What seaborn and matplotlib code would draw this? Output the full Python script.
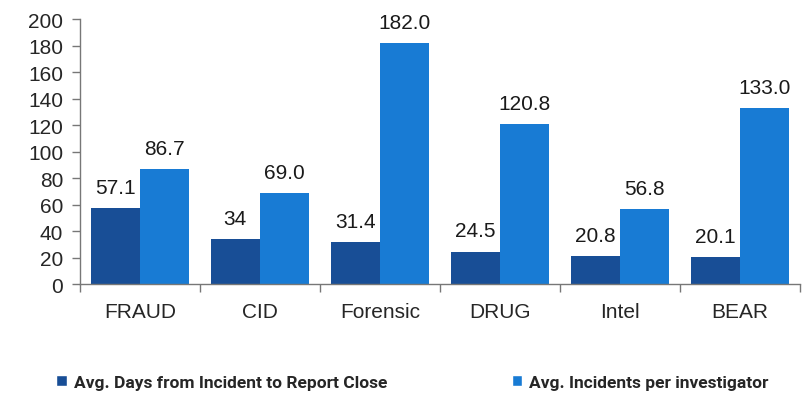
import matplotlib
matplotlib.use("Agg")
import matplotlib.pyplot as plt
import seaborn as sns
import pandas as pd
from matplotlib.patches import Patch

units = ["FRAUD", "CID", "Forensic", "DRUG", "Intel", "BEAR"]
avg_days = [57.1, 34, 31.4, 24.5, 20.8, 20.1]
avg_incidents = [86.7, 69.0, 182.0, 120.8, 56.8, 133.0]
series_names = ["Avg. Days from Incident to Report Close", "Avg. Incidents per investigator"]
y_ticks = [0, 20, 40, 60, 80, 100, 120, 140, 160, 180, 200]

dark_blue = "#184E96"
light_blue = "#187BD4"

df = pd.DataFrame({
    "unit": units * 2,
    "series": [series_names[0]] * len(units) + [series_names[1]] * len(units),
    "value": avg_days + avg_incidents,
})

sns.set_style("white")
plt.rcParams["font.family"] = ["Liberation Sans", "DejaVu Sans"]

fig = plt.figure(figsize=(8.07, 4.02), dpi=100)
ax = fig.add_axes([0.099, 0.291, 0.892, 0.659])

sns.barplot(data=df, x="unit", y="value", hue="series", order=units,
            hue_order=series_names, palette=[dark_blue, light_blue],
            width=0.82, gap=0, saturation=1, ax=ax, legend=False,
            edgecolor="none", linewidth=0)

ax.bar_label(ax.containers[0], labels=[f"{v:g}" for v in avg_days],
             padding=8, fontsize=15, color="#1a1a1a")
ax.bar_label(ax.containers[1], labels=[f"{v:.1f}" for v in avg_incidents],
             padding=8, fontsize=15, color="#1a1a1a")

ax.set_ylim(0, 200)
ax.set_yticks(y_ticks)
ax.set_xlim(-0.5, len(units) - 0.5)
ax.set_xlabel("")
ax.set_ylabel("")
ax.tick_params(axis="y", labelsize=15, length=6, width=1, color="#777777",
               direction="out", left=True, pad=6)
ax.tick_params(axis="x", which="major", labelsize=15, length=0, pad=13)
ax.set_xticks([i - 0.5 for i in range(len(units) + 1)], minor=True)
ax.tick_params(axis="x", which="minor", length=6, width=1, color="#777777",
               direction="out", bottom=True)

for side in ["top", "right"]:
    ax.spines[side].set_visible(False)
for side in ["left", "bottom"]:
    ax.spines[side].set_color("#777777")
    ax.spines[side].set_linewidth(1)

legend_font = {"family": ["Roboto", "DejaVu Sans"], "size": 12.5, "weight": "bold"}
legend_kw = dict(loc="center left", ncol=1, frameon=False, prop=legend_font,
                 handlelength=0.6, handleheight=0.6, handletextpad=0.4,
                 borderpad=0, borderaxespad=0)
fig.legend([Patch(facecolor=dark_blue)], [series_names[0]],
           bbox_to_anchor=(0.070, 0.047), **legend_kw)
fig.legend([Patch(facecolor=light_blue)], [series_names[1]],
           bbox_to_anchor=(0.634, 0.047), **legend_kw)

fig.savefig("out.png", dpi=100, facecolor="white")
